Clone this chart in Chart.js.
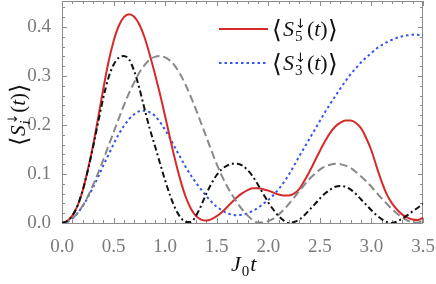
<!DOCTYPE html>
<html>
<head>
<meta charset="utf-8">
<script src="https://cdn.jsdelivr.net/npm/chart.js@4.4.1/dist/chart.umd.min.js"></script>
<style>
  html, body { margin: 0; padding: 0; background: #fff; }
  #box { width: 436px; height: 284px; position: relative; }
</style>
</head>
<body>
<div id="box"><canvas id="chart"></canvas></div>
<script>
// time axis J0 t
const times = [0, 0.05, 0.1, 0.15, 0.2, 0.25, 0.3, 0.35, 0.4, 0.45, 0.5, 0.55, 0.6, 0.65, 0.7, 0.75, 0.8, 0.85, 0.9, 0.95,
  1, 1.05, 1.1, 1.15, 1.2, 1.25, 1.3, 1.35, 1.4, 1.45, 1.5, 1.55, 1.6, 1.65, 1.7, 1.75, 1.8, 1.85, 1.9, 1.95,
  2, 2.05, 2.1, 2.15, 2.2, 2.25, 2.3, 2.35, 2.4, 2.45, 2.5, 2.55, 2.6, 2.65, 2.7, 2.75, 2.8, 2.85, 2.9, 2.95,
  3, 3.05, 3.1, 3.15, 3.2, 3.25, 3.3, 3.35, 3.4, 3.45, 3.5];

// <S5(t)> red solid
const s5 = [0, 0.004, 0.015, 0.035, 0.066, 0.108, 0.157, 0.214, 0.273, 0.328, 0.371, 0.402, 0.42, 0.426, 0.421, 0.405, 0.379, 0.344, 0.305, 0.263,
  0.218, 0.171, 0.126, 0.086, 0.053, 0.029, 0.014, 0.007, 0.005, 0.008, 0.014, 0.022, 0.032, 0.043, 0.053, 0.061, 0.067, 0.071, 0.071, 0.069,
  0.066, 0.062, 0.058, 0.056, 0.056, 0.06, 0.069, 0.086, 0.105, 0.126, 0.147, 0.167, 0.184, 0.197, 0.205, 0.209, 0.209, 0.204, 0.193, 0.173,
  0.148, 0.115, 0.084, 0.058, 0.04, 0.027, 0.017, 0.011, 0.007, 0.006, 0.011];

// <S3(t)> blue dotted
const s3 = [0, 0.002, 0.009, 0.02, 0.034, 0.052, 0.072, 0.094, 0.117, 0.139, 0.161, 0.181, 0.198, 0.212, 0.222, 0.228, 0.229, 0.226, 0.219, 0.206,
  0.19, 0.172, 0.152, 0.133, 0.114, 0.097, 0.082, 0.068, 0.055, 0.043, 0.033, 0.026, 0.02, 0.017, 0.016, 0.017, 0.02, 0.025, 0.031, 0.039,
  0.047, 0.057, 0.069, 0.083, 0.099, 0.117, 0.136, 0.154, 0.172, 0.19, 0.208, 0.226, 0.243, 0.259, 0.275, 0.29, 0.304, 0.316, 0.328, 0.338,
  0.347, 0.356, 0.363, 0.369, 0.374, 0.378, 0.381, 0.383, 0.384, 0.384, 0.383];

// gray dashed
const sGray = [0, 0.002, 0.009, 0.02, 0.035, 0.054, 0.077, 0.102, 0.129, 0.157, 0.185, 0.213, 0.24, 0.265, 0.287, 0.307, 0.322, 0.333, 0.339, 0.341,
  0.338, 0.331, 0.319, 0.302, 0.281, 0.257, 0.231, 0.203, 0.175, 0.147, 0.12, 0.096, 0.075, 0.057, 0.041, 0.027, 0.015, 0.006, 0.001, 0.001,
  0.004, 0.009, 0.017, 0.027, 0.039, 0.052, 0.065, 0.078, 0.09, 0.1, 0.109, 0.115, 0.119, 0.121, 0.12, 0.117, 0.112, 0.104, 0.095, 0.085,
  0.074, 0.062, 0.05, 0.039, 0.028, 0.019, 0.011, 0.005, 0.001, 0.001, 0.005];

// black dash-dot
const sBlack = [0, 0.004, 0.015, 0.035, 0.066, 0.107, 0.154, 0.205, 0.255, 0.296, 0.323, 0.337, 0.341, 0.334, 0.31, 0.275, 0.233, 0.193, 0.158, 0.122,
  0.087, 0.055, 0.029, 0.011, 0.002, 0.002, 0.015, 0.036, 0.06, 0.081, 0.098, 0.11, 0.117, 0.121, 0.121, 0.117, 0.108, 0.095, 0.078, 0.06,
  0.042, 0.027, 0.014, 0.005, 0, 0.002, 0.007, 0.016, 0.027, 0.038, 0.05, 0.06, 0.068, 0.074, 0.0755, 0.074, 0.068, 0.059, 0.048, 0.037,
  0.026, 0.016, 0.008, 0.002, 0, 0.003, 0.009, 0.016, 0.024, 0.031, 0.039];

const xTicks = [0, 0.5, 1, 1.5, 2, 2.5, 3, 3.5];
const yTicks = [0, 0.1, 0.2, 0.3, 0.4];

const SERIF = '"Liberation Serif"';
const ARROWFONT = '"DejaVu Sans"';
const RED = '#d42a2a';
const BLUE = '#3355ee';

function pts(values) {
    return times.map((t, i) => ({ x: t, y: values[i] }));
}

// write a small formula: plain, italic, and stacked sub/superscripts
function mathText(ctx, tokens, size, x0, y0, draw) {
    let x = x0;
    tokens.forEach(tk => {
        if (tk.sub !== undefined || tk.sup !== undefined) {
            let w = 0;
            if (tk.sup) {
                ctx.font = Math.round(size * 0.6) + 'px ' + ARROWFONT;
                if (draw) ctx.fillText(tk.sup, x + 1, y0 - size * 0.38);
                w = Math.max(w, ctx.measureText(tk.sup).width + 1);
            }
            if (tk.sub) {
                ctx.font = (tk.subIt ? 'italic ' : '') + Math.round(size * 0.7) + 'px ' + SERIF;
                if (draw) ctx.fillText(tk.sub, x + 1, y0 + size * 0.24);
                w = Math.max(w, ctx.measureText(tk.sub).width + 1);
            }
            x += w + 1;
        } else {
            const sz = Math.round(size * (tk.scale || 1));
            ctx.font = (tk.it ? 'italic ' : '') + sz + 'px ' + SERIF;
            if (draw) ctx.fillText(tk.t, x, y0 + (tk.dy || 0) * size);
            x += ctx.measureText(tk.t).width + (tk.gap || 0);
        }
    });
    return x - x0;
}

function spinLabel(idx, italicIdx) {
    return [
        { t: '⟨', scale: 1.15, dy: 0.08, gap: 1 },
        { t: 'S', it: true },
        { sup: '↓', sub: idx, subIt: italicIdx },
        { t: '(' },
        { t: 't', it: true },
        { t: ')' },
        { t: '⟩', scale: 1.15, dy: 0.08 }
    ];
}

const framePlugin = {
    id: 'framePlugin',
    beforeDatasetsDraw(chart) {
        const { ctx, chartArea: a, scales: { x, y } } = chart;
        ctx.save();
        ctx.strokeStyle = '#8c8c8c';
        ctx.lineWidth = 1;
        ctx.strokeRect(a.left + 0.5, a.top + 0.5, a.right - a.left - 1, a.bottom - a.top);
        // inward ticks on all four sides
        ctx.beginPath();
        for (let k = 0; k <= 35; k++) {
            const px = Math.round(x.getPixelForValue(k / 10)) + 0.5;
            const len = k % 5 === 0 ? 5 : 3;
            ctx.moveTo(px, a.bottom); ctx.lineTo(px, a.bottom - len);
            ctx.moveTo(px, a.top); ctx.lineTo(px, a.top + len);
        }
        for (let k = 0; k <= 22; k++) {
            const py = Math.round(y.getPixelForValue(k / 50)) + 0.5;
            const len = k % 5 === 0 ? 5 : 3;
            ctx.moveTo(a.left, py); ctx.lineTo(a.left + len, py);
            ctx.moveTo(a.right, py); ctx.lineTo(a.right - len, py);
        }
        ctx.stroke();
        ctx.restore();
    },
    afterDraw(chart) {
        const { ctx } = chart;
        ctx.save();
        ctx.fillStyle = '#111';
        ctx.textBaseline = 'alphabetic';

        // legend
        const rows = [
            { color: RED, dash: [], label: '5', y: 29 },
            { color: BLUE, dash: [2.5, 3], label: '3', y: 63 }
        ];
        rows.forEach(r => {
            ctx.strokeStyle = r.color;
            ctx.lineWidth = 2;
            ctx.setLineDash(r.dash);
            ctx.beginPath();
            ctx.moveTo(219, r.y);
            ctx.lineTo(268, r.y);
            ctx.stroke();
            ctx.setLineDash([]);
            mathText(ctx, spinLabel(r.label, false), 22, 272, r.y + 7, true);
        });

        // x title J0 t
        const xt = [{ t: 'J', it: true }, { sub: '0' }, { t: 't', it: true }];
        mathText(ctx, xt, 22, 231, 271, true);

        // y title, rotated
        const yt = spinLabel('i', true);
        const w = mathText(ctx, yt, 21, 0, 0, false);
        ctx.translate(25, 115);
        ctx.rotate(-Math.PI / 2);
        mathText(ctx, yt, 21, -w / 2, 0, true);
        ctx.restore();
    }
};

const lineSet = (values, color, dash, order) => ({
    data: pts(values),
    borderColor: color,
    borderWidth: 2,
    borderDash: dash,
    pointRadius: 0,
    fill: false,
    cubicInterpolationMode: 'monotone',
    order: order
});

new Chart(document.getElementById('chart'), {
    type: 'line',
    data: {
        datasets: [
            lineSet(s5, RED, [], 2),
            lineSet(s3, BLUE, [2.5, 3], 3),
            lineSet(sGray, '#888888', [8, 4], 1),
            lineSet(sBlack, '#111111', [6, 3, 2, 3], 0)
        ]
    },
    options: {
        responsive: true,
        maintainAspectRatio: false,
        animation: false,
        devicePixelRatio: 1,
        layout: { padding: { top: 1, right: 13, left: 0, bottom: 0 } },
        plugins: { legend: { display: false }, tooltip: { enabled: false } },
        scales: {
            x: {
                type: 'linear',
                min: 0,
                max: 3.5,
                grid: { display: false },
                border: { display: false },
                afterBuildTicks: s => { s.ticks = xTicks.map(v => ({ value: v })); },
                afterFit: s => { s.height = 61; s.paddingLeft = 0; s.paddingRight = 0; },
                ticks: {
                    autoSkip: false,
                    maxRotation: 0,
                    padding: 5,
                    color: '#7a7a7a',
                    font: { family: SERIF, size: 19 },
                    callback: v => v.toFixed(1)
                }
            },
            y: {
                type: 'linear',
                min: 0,
                max: 0.453,
                grid: { display: false },
                border: { display: false },
                afterBuildTicks: s => { s.ticks = yTicks.map(v => ({ value: v })); },
                afterFit: s => { s.width = 62; s.paddingTop = 0; s.paddingBottom = 0; },
                ticks: {
                    autoSkip: false,
                    padding: 3,
                    color: '#7a7a7a',
                    font: { family: SERIF, size: 19 },
                    callback: v => v.toFixed(1)
                }
            }
        }
    },
    plugins: [framePlugin]
});
</script>
</body>
</html>
